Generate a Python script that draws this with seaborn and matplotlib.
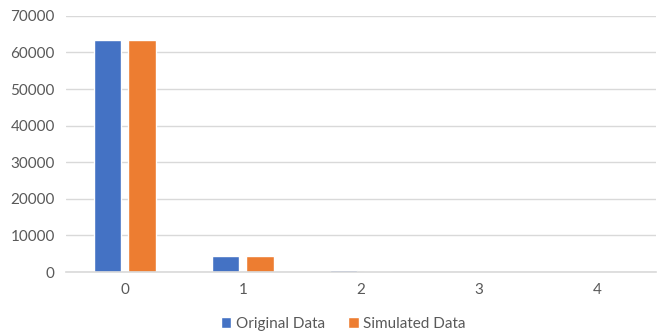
import matplotlib
matplotlib.use("Agg")
import matplotlib.pyplot as plt
import seaborn as sns
import pandas as pd

categories = ["0", "1", "2", "3", "4"]
original = [63500, 4300, 450, 30, 2]
simulated = [63500, 4300, 380, 25, 2]
series_names = ["Original Data", "Simulated Data"]
yticks = [0, 10000, 20000, 30000, 40000, 50000, 60000, 70000]

df = pd.DataFrame({
    "cat": categories * 2,
    "value": original + simulated,
    "series": [series_names[0]] * len(categories) + [series_names[1]] * len(categories),
})

sns.set_theme(style="white")
plt.rcParams["font.family"] = ["Lato", "DejaVu Sans"]

fig = plt.figure(figsize=(6.59, 3.31), dpi=100)
ax = fig.add_axes([0.100, 0.178, 0.895, 0.774])

sns.barplot(data=df, x="cat", y="value", hue="series", order=categories,
            hue_order=series_names, palette=["#4472C4", "#ED7D31"],
            width=0.58, gap=0.2, ax=ax, legend=True, saturation=1)

ax.set_ylim(0, 70000)
ax.set_yticks(yticks)
ax.set_yticklabels([str(v) for v in yticks])
ax.set_xlim(-0.5, 4.5)
ax.set_xlabel("")
ax.set_ylabel("")
ax.yaxis.grid(True, color="#D9D9D9", linewidth=1)
ax.set_axisbelow(True)
for s in ["top", "right", "left"]:
    ax.spines[s].set_visible(False)
ax.spines["bottom"].set_color("#D9D9D9")
ax.spines["bottom"].set_linewidth(1.2)
ax.tick_params(axis="both", length=0, labelsize=11, colors="#595959", pad=8)

ax.legend(loc="upper center", bbox_to_anchor=(0.47, -0.12), ncol=2, frameon=False,
          fontsize=11, handlelength=0.7, handleheight=0.7, handletextpad=0.3,
          columnspacing=1.5, labelcolor="#595959")

fig.savefig("out.png", dpi=100)
